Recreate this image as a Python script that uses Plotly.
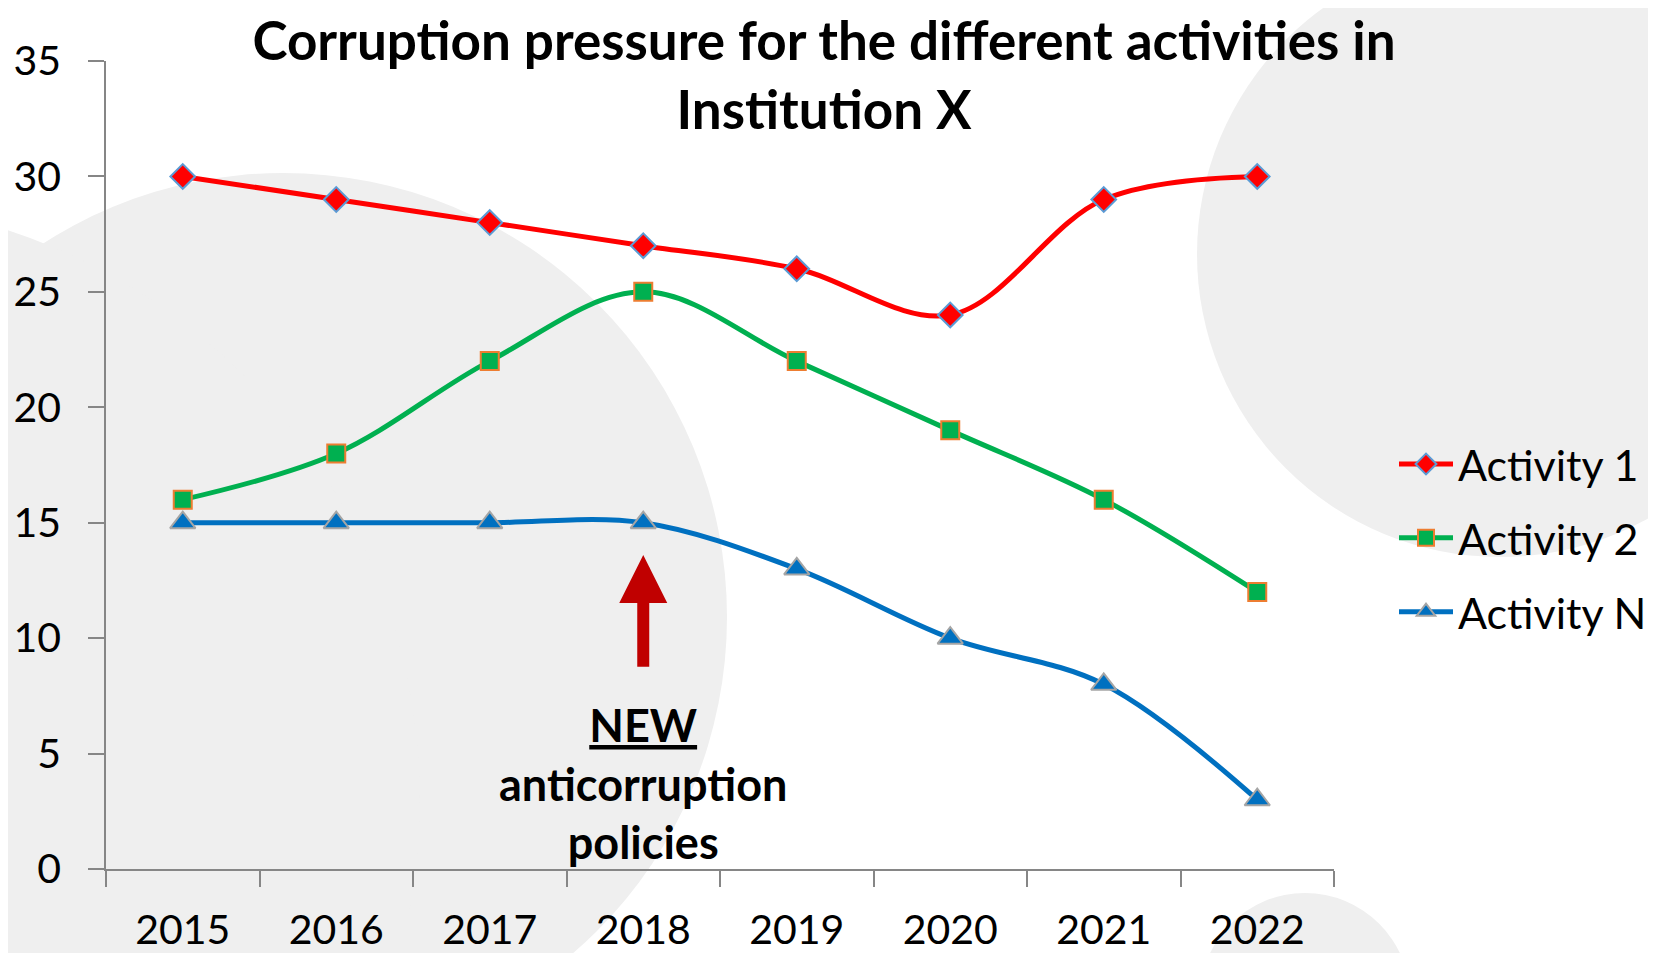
import plotly.graph_objects as go

years = ['2015', '2016', '2017', '2018', '2019', '2020', '2021', '2022']
activity_1 = [30, 29, 28, 27, 26, 24, 29, 30]
activity_2 = [16, 18, 22, 25, 22, 19, 16, 12]
activity_n = [15, 15, 15, 15, 13, 10, 8, 3]

# the page puts the figure 8px in from the top-left corner, so everything
# below is laid out in page pixels and shifted back by OFF
OFF = 8
W, H = 1656 - OFF, 953 - OFF
L, R, T, B = 106 - OFF, 322, 61 - OFF, 84
PW, PH = W - L - R, H - T - B
FONT = 'Lato'


def px(x):
    return (x - OFF - L) / PW


def py(y):
    return (H - B - (y - OFF)) / PH


def circle(cx, cy, r):
    # decorative grey disc, given in page pixels
    return dict(type='circle', xref='paper', yref='paper', layer='below',
                x0=px(cx - r), x1=px(cx + r), y0=py(cy + r), y1=py(cy - r),
                fillcolor='#efefef', line_width=0)


fig = go.Figure()

fig.add_trace(go.Scatter(
    name='Activity 1', x=years, y=activity_1, mode='lines+markers',
    line=dict(color='#ff0000', width=5, shape='spline'),
    marker=dict(symbol='diamond', size=19, color='#ff0000',
                line=dict(color='#5b9bd5', width=2)),
    legendgroup='a1'))

fig.add_trace(go.Scatter(
    name='Activity 2', x=years, y=activity_2, mode='lines+markers',
    line=dict(color='#00b050', width=5, shape='spline'),
    marker=dict(symbol='square', size=18, color='#00b050',
                line=dict(color='#ed7d31', width=2)),
    legendgroup='a2'))

fig.add_trace(go.Scatter(
    name='Activity N', x=years, y=activity_n, mode='lines+markers',
    line=dict(color='#0070c0', width=5, shape='spline'),
    marker=dict(symbol='triangle-up', size=22, color='#0070c0',
                line=dict(color='#a5a5a5', width=2)),
    legendgroup='an'))

fig.update_layout(
    width=W, height=H,
    margin=dict(l=L, r=R, t=T, b=B, autoexpand=False),
    paper_bgcolor='white',
    plot_bgcolor='rgba(0,0,0,0)',
    font=dict(family=FONT, size=41, color='black'),
    title=dict(
        text='<b>Corruption pressure for the different activities in<br>Institution X</b>',
        x=(824 - OFF) / W, y=1 - 52 / H, xref='container', yref='container',
        xanchor='center', yanchor='middle',
        font=dict(family=FONT, size=53, color='black')),
    showlegend=True,
    legend=dict(x=px(1394), y=py(538), xanchor='left', yanchor='middle',
                bgcolor='rgba(0,0,0,0)', tracegroupgap=15, itemwidth=54,
                font=dict(family=FONT, size=43)),
    shapes=[circle(283, 617, 444), circle(-180, 800, 600),
            circle(1500, 254, 303), circle(1305, 998, 105)])

fig.update_xaxes(
    type='category', range=[-0.5, 7.5], showgrid=False, automargin=False,
    showline=True, linecolor='#868686', linewidth=1.5,
    ticks='outside', tickson='boundaries', ticklen=16,
    tickcolor='#868686', tickwidth=1.5, ticklabelstandoff=24,
    tickfont=dict(family=FONT, size=41))

fig.update_yaxes(
    range=[0, 35], dtick=5, showgrid=False, zeroline=False, automargin=False,
    showline=True, linecolor='#868686', linewidth=1.5,
    ticks='outside', ticklen=16, tickcolor='#868686', tickwidth=1.5,
    ticklabelstandoff=19, tickfont=dict(family=FONT, size=41))

# arrow marking the new policy (category index 3 = 2018)
fig.add_annotation(x=3, y=13.6, ax=3, ay=8.7, xref='x', yref='y',
                   axref='x', ayref='y',
                   text='', showarrow=True, arrowhead=2, arrowsize=0.8,
                   arrowwidth=12, arrowcolor='#c00000')

fig.add_annotation(x=3, y=3.7, xref='x', yref='y', showarrow=False,
                   text='<b><u>NEW</u><br>anticorruption<br>policies</b>',
                   font=dict(family=FONT, size=45, color='black'),
                   align='center')

fig.write_html('out.html')
